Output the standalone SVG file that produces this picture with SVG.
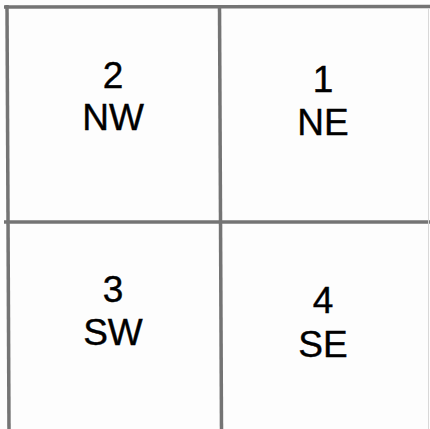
<svg xmlns="http://www.w3.org/2000/svg" width="430" height="429" viewBox="0 0 430 429">
<style>
.ln{stroke:#747474;stroke-width:3.5;fill:none}
.edge{stroke:#d8d8d8;stroke-width:1;fill:none}
.t{font-family:"Liberation Sans",Arial,sans-serif;font-size:37px;fill:#000;stroke:#000;stroke-width:0.4;text-anchor:middle}
</style>
<rect width="430" height="429" fill="#fdfdfd"/>
<g id="connectors">
<line class="ln" x1="4" y1="7" x2="430" y2="6.5"/>
<line class="ln" x1="7" y1="5" x2="9" y2="429"/>
<line class="ln" x1="219.5" y1="5" x2="221.5" y2="429"/>
<line class="ln" x1="4" y1="222" x2="430" y2="222"/>
<line class="edge" x1="428.5" y1="8" x2="428.5" y2="429"/>
</g>
<g id="node-nw"><text class="t" x="113" y="88">2</text><text class="t" x="113" y="130">NW</text></g>
<g id="node-ne"><text class="t" x="323" y="92">1</text><text class="t" x="323" y="135">NE</text></g>
<g id="node-sw"><text class="t" x="113" y="302">3</text><text class="t" x="113" y="345">SW</text></g>
<g id="node-se"><text class="t" x="323" y="313">4</text><text class="t" x="323" y="357">SE</text></g>
</svg>
